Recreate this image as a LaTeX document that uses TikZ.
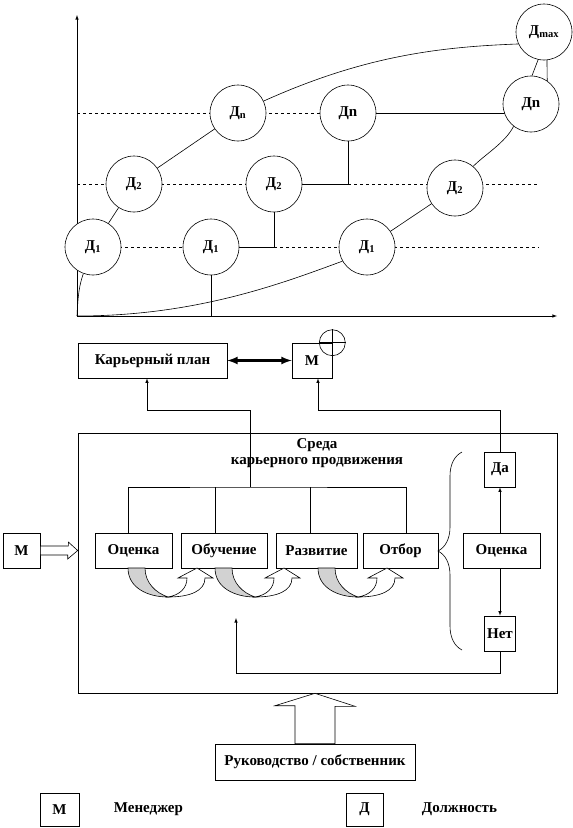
\documentclass[tikz,border=0pt]{standalone}
\usepackage{fontspec}
\setmainfont{Liberation Serif}
\usetikzlibrary{positioning}
\usetikzlibrary{backgrounds}
\usetikzlibrary{decorations.pathreplacing}
\tikzset{>=latex}
\tikzset{dol/.style={draw, circle, minimum size=56pt, inner sep=0pt, fill=white, font=\bfseries\fontsize{15}{16}\selectfont}}
\tikzset{blk/.style={draw, rectangle, minimum height=35pt, inner sep=0pt, fill=white, font=\bfseries\fontsize{15}{16}\selectfont}}
\tikzset{txt/.style={font=\bfseries\fontsize{15}{16}\selectfont}}
\tikzset{hollow/.style={draw, fill=white}}
\tikzset{turnfill/.style={draw, fill=gray!35}}

\begin{document}
\begin{tikzpicture}[x=1pt, y=-1pt, line width=0.6pt]
        \useasboundingbox (0,0) rectangle (573,828);

        % axes
        \coordinate (O) at (77,316);
        \coordinate (ytop) at (77,15);
        \coordinate (xend) at (557,316);
        \draw[->] (O) -- (ytop);
        \draw[->] (O) -- (xend);

        \coordinate (la) at (77,113);
        \coordinate (lb) at (77,184);
        \coordinate (lc) at (77,247);
        \coordinate (eb) at (539,184);
        \coordinate (ec) at (539,247);

        % positions
        \node[dol] (d1a) at (93,247) {Д\textsubscript{1}};
        \node[dol] (d2a) at (134,184) {Д\textsubscript{2}};
        \node[dol] (dna) at (238,113) {Д\textsubscript{n}};
        \node[dol] (d1b) at (211,247) {Д\textsubscript{1}};
        \node[dol] (d2b) at (274,184) {Д\textsubscript{2}};
        \node[dol] (dnb) at (348,113) {Дn};
        \node[dol] (d1c) at (367,247) {Д\textsubscript{1}};
        \node[dol] (d2c) at (455,188) {Д\textsubscript{2}};
        \node[dol] (dnc) at (531,104) {Дn};
        \node[dol] (dmax) at (544,32) {Д\textsubscript{max}};

        \begin{scope}[on background layer]
        \draw[dashed] (la) -- (la -| dnb);
        \draw[dashed] (lb) -- (lb -| d2b);
        \draw[dashed] (lb -| dnb) -- (eb);
        \draw[dashed] (lc) -- (lc -| d1b);
        \draw[dashed] (lc -| d2b) -- (ec);
        \draw (dnb) -- (dnb -| dnc);
        \draw (d2b) -- (d2b -| dnb) -- (dnb);
        \draw (d1b) -- (d1b -| d2b) -- (d2b);
        \draw (d1b) -- (d1b |- O);
        \end{scope}

        \draw (O) .. controls +(1,-22) and +(-4,12) .. (d1a.250);
        \draw (d1a) -- (d2a);
        \draw (d2a) -- (dna);
        \draw (dna.25) .. controls +(100,-45) and +(-80,3) .. (dmax.205);
        \draw (O) .. controls +(120,0) and +(-60,22) .. (d1c.210);
        \draw (d1c) -- (d2c);
        \draw (d2c.50) .. controls +(12,-12) and +(-8,16) .. (dnc.232);
        \draw (dmax.-102) -- (dnc.88);
        \draw (dmax.-84) -- (dnc.55);

        % plan and manager
        \node[blk, minimum width=149pt] (plan) at (152.5,360.5) {Карьерный план};
        \node[blk, minimum width=40pt] (mtop) at (312,360.5) {М};
        \node[draw, circle, minimum size=26pt, inner sep=0pt] (cross) at (mtop.north east) {};
        \draw (cross.north) -- (cross.south);
        \draw (cross.west) -- (cross.east);
        \draw[<->, line width=2.5pt] (plan) -- (mtop);

        % environment
        \node[draw, minimum width=479pt, minimum height=260pt, inner sep=0pt] (env) at (317.5,563) {};
        \node[txt, align=center] (envtitle) at (317,453) {Среда\\карьерного продвижения};

        \node[blk, minimum width=77pt] (ocen) at (133.5,550.5) {Оценка};
        \node[blk, minimum width=86pt] (obuch) at (224,550.5) {Обучение};
        \node[blk, minimum width=81pt] (razv) at (316.5,550.5) {Развитие};
        \node[blk, minimum width=75pt] (otbor) at (400.5,550.5) {Отбор};
        \node[blk, minimum width=77pt] (ocen2) at (501.5,550.5) {Оценка};
        \node[blk, minimum width=31pt] (da) at (500,469.5) {Да};
        \node[blk, minimum width=31pt] (net) at (500,633.5) {Нет};

        \coordinate (bus) at (250,487);
        \coordinate (turn1) at (250,410);
        \coordinate (turn2) at (318,410);
        \draw ([xshift=-5.5]ocen.north) |- (bus) -| ([xshift=5.5]otbor.north);
        \draw ([xshift=-9]obuch.north) -- ([xshift=-9]obuch.north |- bus);
        \draw ([xshift=-6.5]razv.north) -- ([xshift=-6.5]razv.north |- bus);
        \draw[->] (bus) -- (turn1) -| ([xshift=-5.5]plan.south);
        \draw[->] (da.north) |- (turn2) -- (turn2 |- mtop.south);

        \draw[->] (ocen2.north -| da) -- (da.south);
        \draw[->] (ocen2.south -| net) -- (net.north);

        \coordinate (corner) at (236,673);
        \coordinate (back) at (236,618);
        \draw[->] (net.south) |- (corner) -- (back);

        \coordinate (bt) at (462,452);
        \coordinate (bb) at (462,650);
        \draw[decorate, decoration={brace, amplitude=24pt}] (bb) -- (bt);

        \foreach \dx in {0,87,190}{
          \begin{scope}[xshift=\dx]
          \draw[turnfill] (128,568) .. controls (128,588) and (148,597) .. (168,597)
            .. controls (156,593) and (145,583) .. (145,568) -- cycle;
          \draw[hollow] (168,597) .. controls (190,597) and (205,591) .. (205,578)
            -- (213,578) -- (197,568) -- (178,578) -- (187,578)
            .. controls (187,588) and (180,595) .. (168,597) -- cycle;
          \end{scope}
        }

        % inputs
        \node[blk, minimum width=37pt] (mleft) at (21.5,550.5) {М};
        \draw[hollow] ([yshift=4.5]mleft.east) -- ++(28,0) -- ++(0,-4)
          -- (env.west |- mleft.east) -- ++(-10,8.5) -- ++(0,-4)
          -- ([yshift=-4.5]mleft.east) -- cycle;

        \node[blk, minimum width=200pt, minimum height=36pt] (rukov) at (315,762) {Руководство / собственник};
        \draw[hollow] ([xshift=-20]rukov.north) -- ++(0,-38) -- ++(-20,0)
          -- (rukov.north |- env.south) -- ++(40,13) -- ++(-20,0)
          -- ([xshift=20]rukov.north) -- cycle;

        % legend
        \node[blk, minimum width=39pt, minimum height=33pt] (legm) at (59.5,809.5) {М};
        \node[txt, right=31pt of legm] (legmtxt) {Менеджер};
        \node[blk, minimum width=37pt, minimum height=33pt] (legd) at (364.5,809.5) {Д};
        \node[txt, right=35pt of legd] (legdtxt) {Должность};
\end{tikzpicture}
\end{document}
